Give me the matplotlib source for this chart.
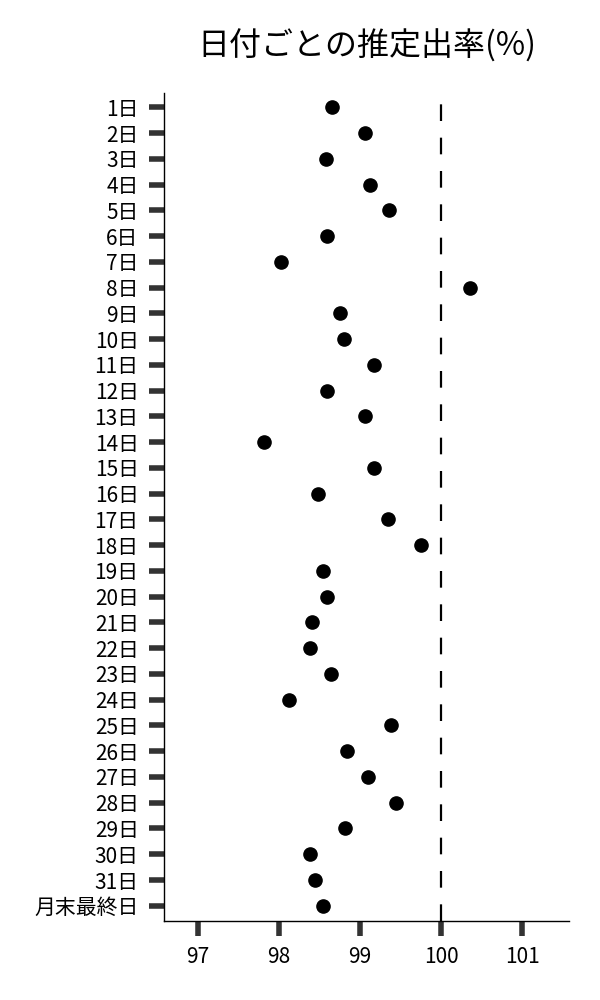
import matplotlib
matplotlib.use('Agg')
import matplotlib.pyplot as plt

plt.rcParams['font.family'] = ['Noto Sans CJK JP', 'DejaVu Sans']

# Days of the month and the estimated rate
days = [f'{d}日' for d in range(1, 32)] + ['月末最終日']
rates = [98.66, 99.06, 98.58, 99.12, 99.36, 98.59, 98.03, 100.36, 98.76, 98.80,
         99.17, 98.60, 99.06, 97.82, 99.18, 98.49, 99.35, 99.75, 98.55, 98.59,
         98.41, 98.39, 98.65, 98.13, 99.38, 98.84, 99.10, 99.45, 98.82, 98.39,
         98.45, 98.55]
x_ticks = [97, 98, 99, 100, 101]
ref_value = 100

fig = plt.figure(figsize=(6, 10), dpi=100)
ax = fig.add_axes([0.274, 0.0793, 0.6745, 0.828])

ypos = list(range(len(days)))
ax.plot(rates, ypos, 'o', color='black', markersize=9.5, linestyle='none', zorder=3)

# reference line at 100
ax.axvline(ref_value, color='black', linewidth=1.6, dashes=(7.5, 7.5), zorder=2)

ax.set_yticks(ypos)
ax.set_yticklabels(days)
ax.set_xticks(x_ticks)
ax.set_xlim(96.59, 101.58)
ax.set_ylim(31.58, -0.57)

ax.spines['top'].set_visible(False)
ax.spines['right'].set_visible(False)
for s in ['left', 'bottom']:
    ax.spines[s].set_linewidth(1.0)
    ax.spines[s].set_color('black')

ax.tick_params(axis='both', length=10.5, width=4, color='#333333',
               labelsize=15, labelcolor='black')
ax.tick_params(axis='y', pad=8)
ax.tick_params(axis='x', pad=8)

ax.set_title('日付ごとの推定出率(%)', fontsize=23, pad=27)

fig.savefig('out.png', dpi=100)
